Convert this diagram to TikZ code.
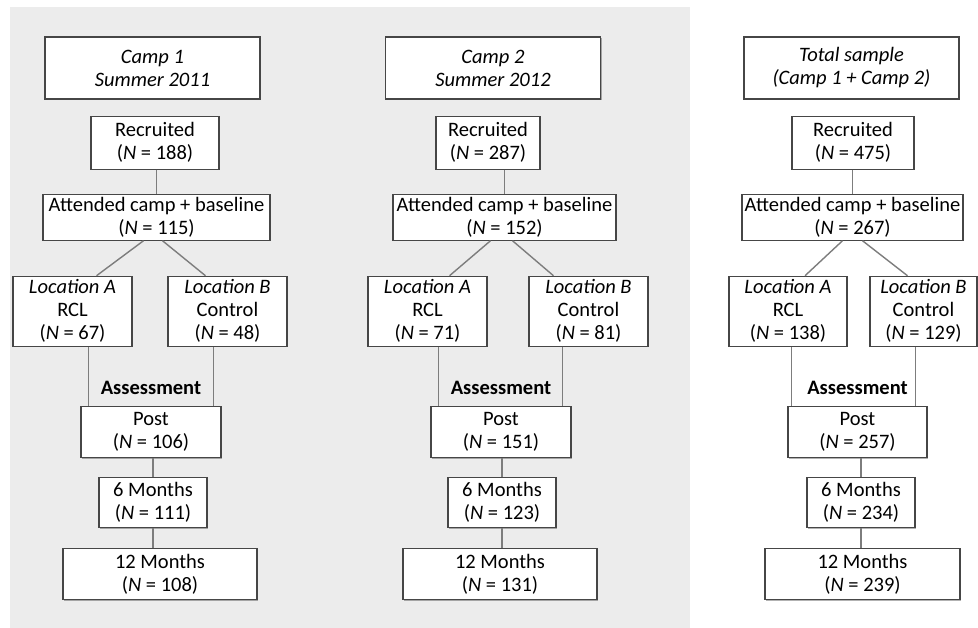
\documentclass[tikz,border=0pt]{standalone}
\usepackage{fontspec}
\setmainfont{Carlito}
\usepackage{xcolor}
\usepackage{tikz}
\usetikzlibrary{positioning,shadows}
\definecolor{panel}{RGB}{236,236,236}
\definecolor{boxline}{RGB}{70,70,70}
\definecolor{linkgray}{RGB}{125,125,125}
\newcommand{\flowsize}{\fontsize{20.5}{23}\selectfont}

\begin{document}
\begin{tikzpicture}[
  x=1pt, y=-1pt,
  box/.style={draw=boxline, fill=white, line width=1.1pt, align=center, font=\flowsize,
    inner xsep=2pt, inner ysep=0pt, minimum width=#1, minimum height=51pt,
    drop shadow={shadow xshift=1pt, shadow yshift=-1.2pt, opacity=0.3, fill=black}},
  box/.default=110,
  ttl/.style={box=215, minimum height=62pt, font=\flowsize\itshape},
  loc/.style={box=#1, minimum height=70pt},
  loc/.default=119,
  lbl/.style={font=\flowsize\bfseries, inner sep=0pt},
  link/.style={draw=linkgray, line width=1.4pt},
]
\useasboundingbox (0,0) rectangle (978,628);
\fill[panel] (10,7) rectangle (690,628);

% camp 1
\node[ttl] (camp1) at (152.5,68) {Camp 1\\Summer 2011};
\node[box=128, minimum height=53pt, below=16pt of camp1, xshift=2.5pt] (rec1) {Recruited\\(\textit{N} = 188)};
\node[box=227, minimum height=46pt, below=24pt of rec1, xshift=1.5pt] (att1) {Attended camp + baseline\\(\textit{N} = 115)};
\node[loc, below=35pt of att1, xshift=-84pt] (loca1) {\textit{Location A}\\RCL\\(\textit{N} = 67)};
\node[loc, below=35pt of att1, xshift=71pt] (locb1) {\textit{Location B}\\Control\\(\textit{N} = 48)};
\node[box=140, below=165pt of att1, xshift=-5.5pt] (post1) {Post\\(\textit{N} = 106)};
\node[lbl, above=11pt of post1] (ass1) {Assessment};
\node[box=108, minimum height=50pt, below=19pt of post1, xshift=2pt] (six1) {6 Months\\(\textit{N} = 111)};
\node[box=194, below=20pt of six1, xshift=7pt] (twelve1) {12 Months\\(\textit{N} = 108)};
\coordinate (pa1) at ([xshift=8pt]post1.north west);
\coordinate (pb1) at ([xshift=-8pt]post1.north east);
\draw[link] (att1.north |- rec1.south) -- (att1.north);
\draw[link] ([xshift=-13pt]att1.south) -- ([xshift=24pt]loca1.north);
\draw[link] ([xshift=6pt]att1.south) -- ([xshift=-22pt]locb1.north);
\draw[link] (pa1) -- (pa1 |- loca1.south);
\draw[link] (pb1) -- (pb1 |- locb1.south);
\draw[link] (six1.north |- post1.south) -- (six1.north);
\draw[link] (six1.south) -- (six1.south |- twelve1.north);

% camp 2
\node[ttl] (camp2) at (493,68) {Camp 2\\Summer 2012};
\node[box=104, minimum height=53pt, below=16pt of camp2, xshift=-5pt] (rec2) {Recruited\\(\textit{N} = 287)};
\node[box=223, minimum height=46pt, below=24pt of rec2, xshift=16.5pt] (att2) {Attended camp + baseline\\(\textit{N} = 152)};
\node[loc, below=35pt of att2, xshift=-77pt] (loca2) {\textit{Location A}\\RCL\\(\textit{N} = 71)};
\node[loc, below=35pt of att2, xshift=84pt] (locb2) {\textit{Location B}\\Control\\(\textit{N} = 81)};
\node[box=140, below=165pt of att2, xshift=-3.5pt] (post2) {Post\\(\textit{N} = 151)};
\node[lbl, above=11pt of post2] (ass2) {Assessment};
\node[box=108, minimum height=50pt, below=19pt of post2, xshift=1pt] (six2) {6 Months\\(\textit{N} = 123)};
\node[box=194, below=20pt of six2, xshift=-2pt] (twelve2) {12 Months\\(\textit{N} = 131)};
\coordinate (pa2) at ([xshift=8pt]post2.north west);
\coordinate (pb2) at ([xshift=-9pt]post2.north east);
\draw[link] (att2.north |- rec2.south) -- (att2.north);
\draw[link] ([xshift=-14pt]att2.south) -- ([xshift=22pt]loca2.north);
\draw[link] ([xshift=8pt]att2.south) -- ([xshift=-35pt]locb2.north);
\draw[link] (pa2) -- (pa2 |- loca2.south);
\draw[link] (pb2) -- (pb2 |- locb2.south);
\draw[link] (six2.north |- post2.south) -- (six2.north);
\draw[link] (six2.south) -- (six2.south |- twelve2.north);

% total sample
\node[ttl] (total) at (851.5,68) {Total sample\\(Camp 1 + Camp 2)};
\node[box=122, minimum height=53pt, below=16pt of total, xshift=1.5pt] (rec3) {Recruited\\(\textit{N} = 475)};
\node[box=221, minimum height=46pt, below=24pt of rec3, xshift=-0.5pt] (att3) {Attended camp + baseline\\(\textit{N} = 267)};
\node[loc=118, below=35pt of att3, xshift=-64.5pt] (loca3) {\textit{Location A}\\RCL\\(\textit{N} = 138)};
\node[loc=107, below=35pt of att3, xshift=71pt] (locb3) {\textit{Location B}\\Control\\(\textit{N} = 129)};
\node[box=139, below=165pt of att3, xshift=5pt] (post3) {Post\\(\textit{N} = 257)};
\node[lbl, above=11pt of post3] (ass3) {Assessment};
\node[box=108, minimum height=50pt, below=19pt of post3, xshift=3.5pt] (six3) {6 Months\\(\textit{N} = 234)};
\node[box=195, below=20pt of six3, xshift=1.5pt] (twelve3) {12 Months\\(\textit{N} = 239)};
\coordinate (pa3) at ([xshift=4pt]post3.north west);
\coordinate (pb3) at ([xshift=-12pt]post3.north east);
\draw[link] (att3.north |- rec3.south) -- (att3.north);
\draw[link] ([xshift=-10pt]att3.south) -- ([xshift=17pt]loca3.north);
\draw[link] ([xshift=10pt]att3.south) -- ([xshift=-16pt]locb3.north);
\draw[link] (pa3) -- (pa3 |- loca3.south);
\draw[link] (pb3) -- (pb3 |- locb3.south);
\draw[link] (six3.north |- post3.south) -- (six3.north);
\draw[link] (six3.south) -- (six3.south |- twelve3.north);
\end{tikzpicture}
\end{document}
